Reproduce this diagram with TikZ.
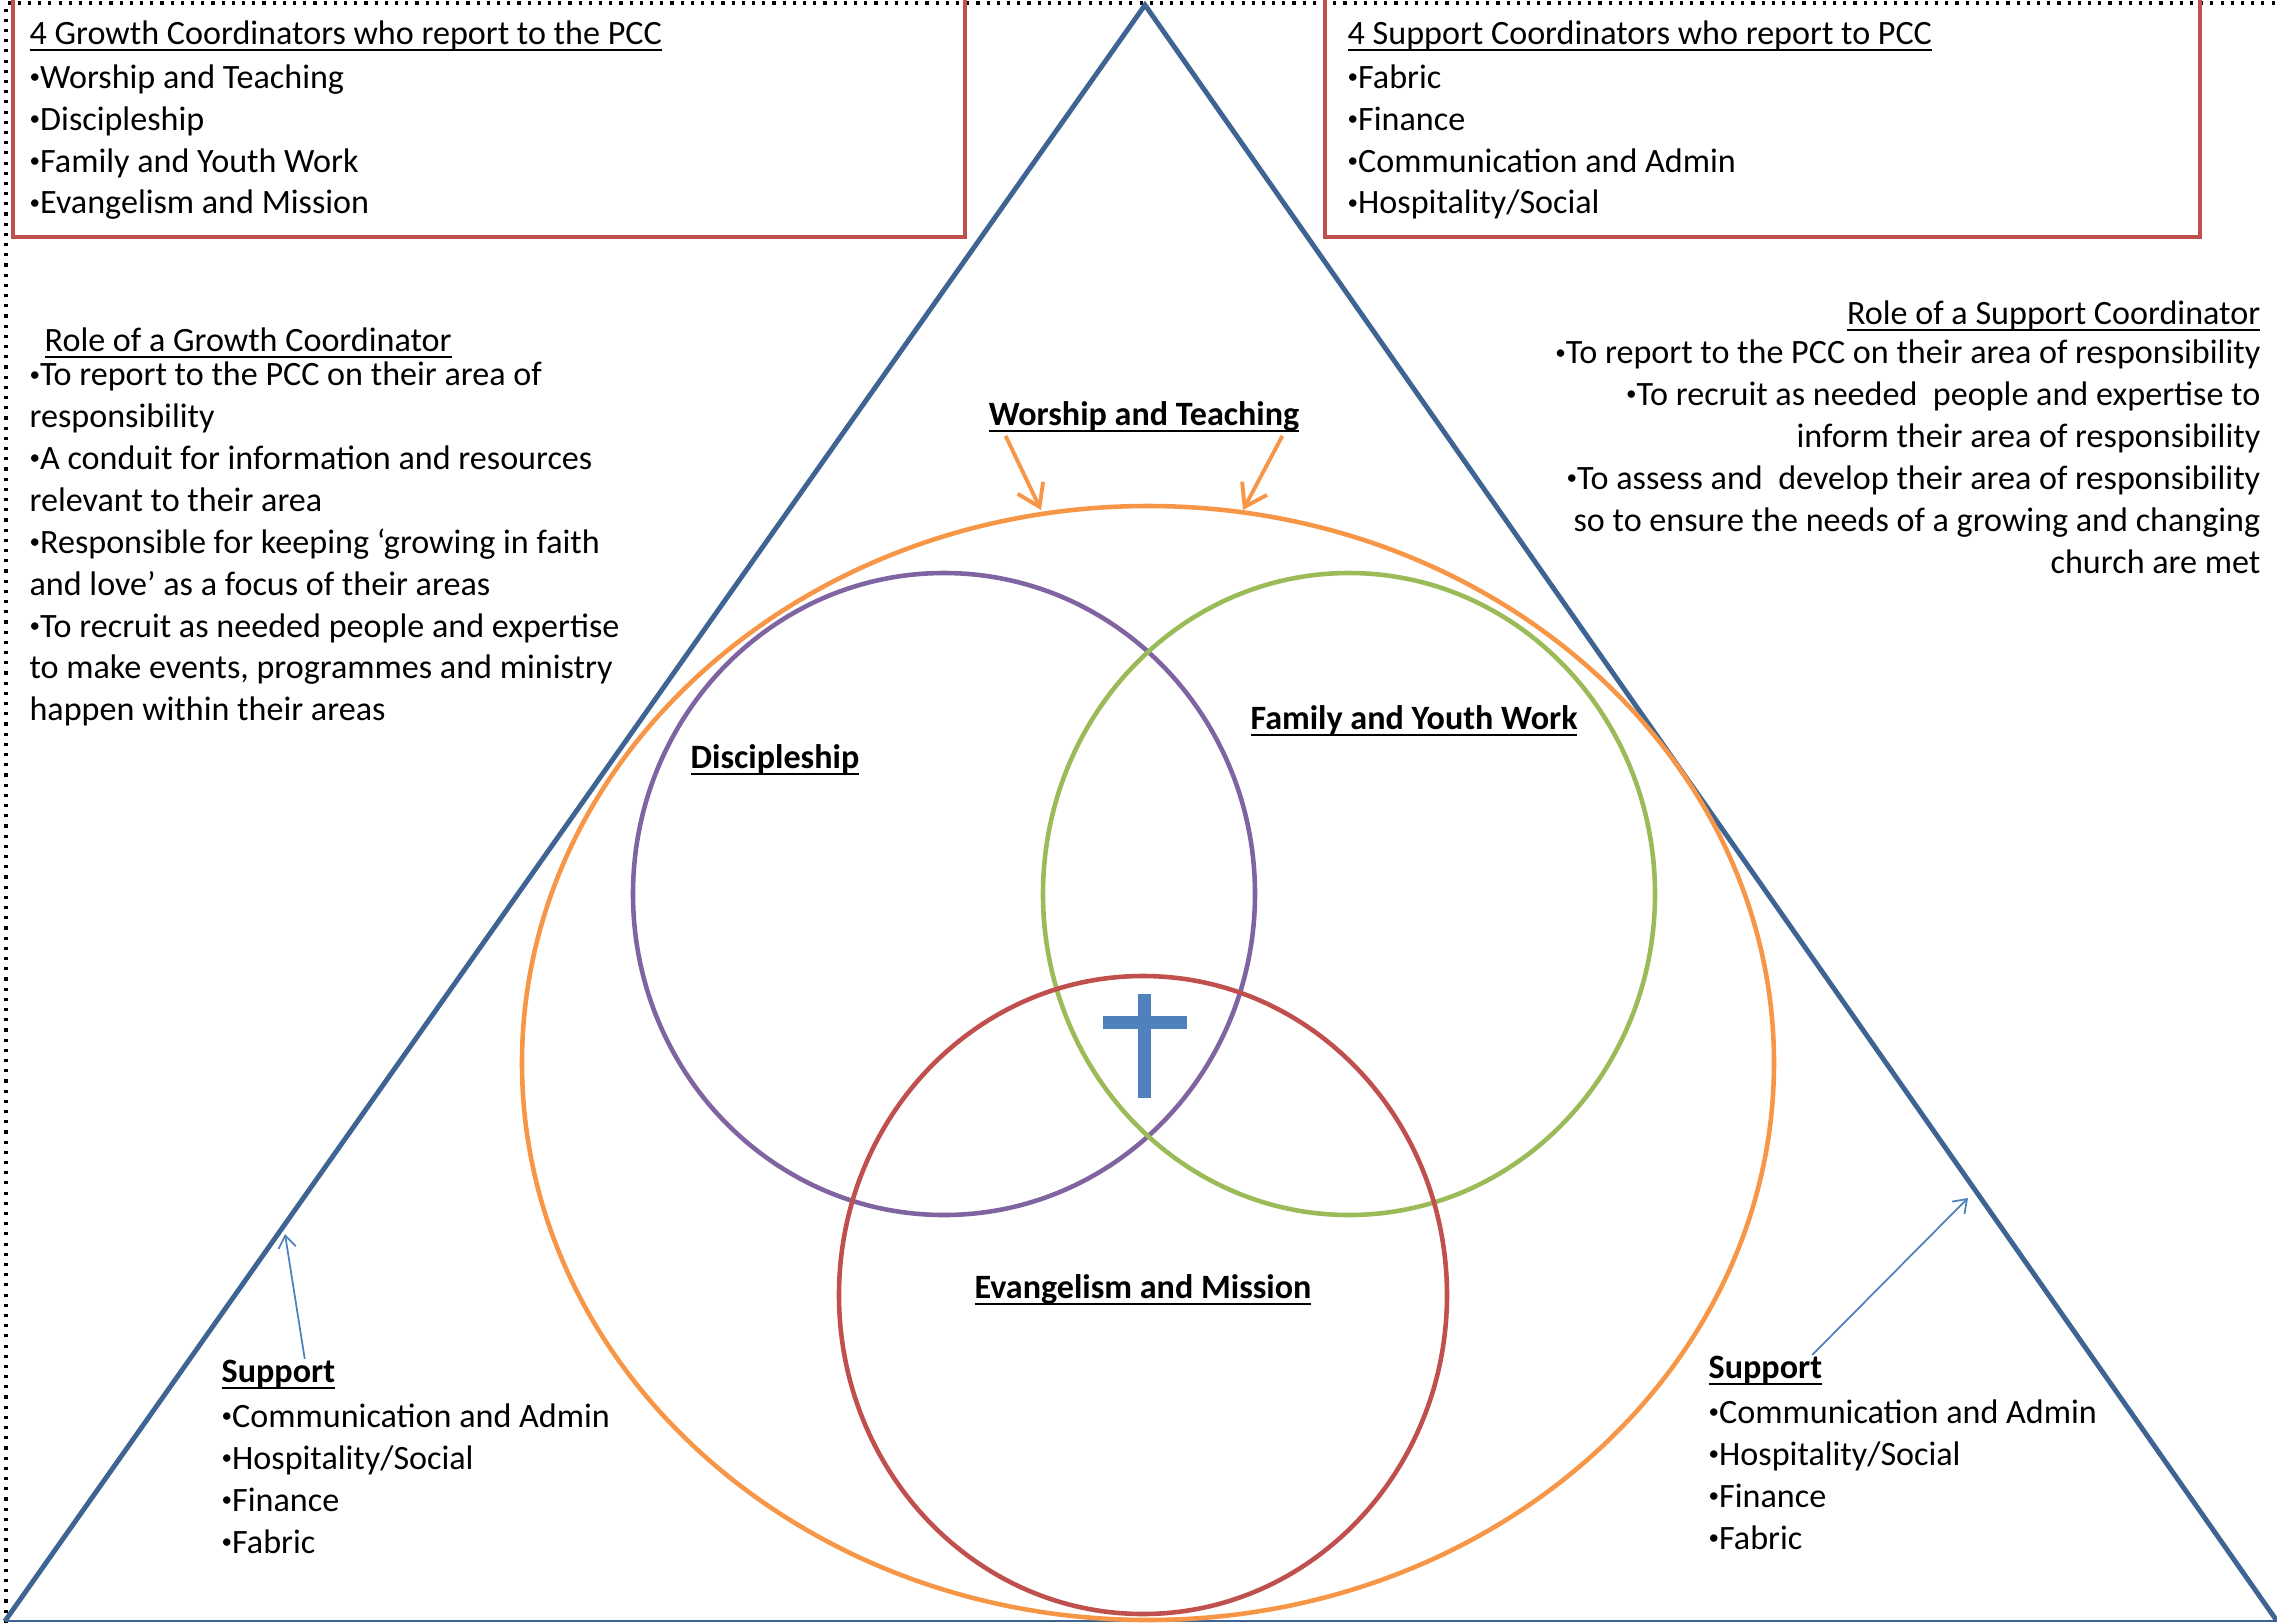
\documentclass[tikz,border=0pt]{standalone}
\usepackage{fontspec}
\setmainfont{Carlito}
\usetikzlibrary{arrows.meta,positioning}
\definecolor{triblue}{RGB}{62,100,148}
\definecolor{boxred}{RGB}{192,80,77}
\definecolor{wtorange}{RGB}{247,150,70}
\definecolor{dpurple}{RGB}{128,100,162}
\definecolor{fgreen}{RGB}{155,187,89}
\definecolor{crossblue}{RGB}{79,129,189}
\tikzset{>/.tip={Straight Barb[length=6pt,width=8pt]}}
\newcommand\uln[1]{\setbox0\hbox{#1}\rlap{\rule[-1.9pt]{\wd0}{0.55pt}}\box0}
\newcommand\blt{\raisebox{.14em}{\fontsize{6}{6}\selectfont•}}

\begin{document}
\begin{tikzpicture}[x=0.01cm,y=-0.01cm,
    txt/.style={inner sep=0pt,align=left,font=\fontsize{9.7}{11.9}\selectfont},
    lbl/.style={inner sep=0pt,font=\bfseries\fontsize{9.7}{11.9}\selectfont},
    box/.style={boxred,line width=1.3pt},
    ring/.style={line width=1.3pt}]
  \useasboundingbox (0,0) rectangle (2277,1623);
  \draw[dotted,line width=0.9pt] (6,1623) -- (6,3) -- (2277,3);
  \coordinate (top) at (1145,5);
  \coordinate (bl) at (5,1621);
  \coordinate (br) at (2277,1621);
  \draw[triblue,line width=1.4pt] (bl) -- (top) -- (br);
  \draw[triblue,line width=0.6pt] (bl) -- (br);
  \draw[box] (13,0) -- (13,237) -- (965,237) -- (965,0);
  \draw[box] (1325,0) -- (1325,237) -- (2200,237) -- (2200,0);

  \node (gtitle) [txt,anchor=base west] at (29,44) {\uln{4 Growth Coordinators who report to the PCC}};
  \node (glist) [txt,below=5.7pt of gtitle.base west,anchor=north west]
    {\blt Worship and Teaching\\\blt Discipleship\\\blt Family and Youth Work\\\blt Evangelism and Mission};
  \node (stitle) [txt,anchor=base west] at (1347,44) {\uln{4 Support Coordinators who report to PCC}};
  \node (slist) [txt,below=5.7pt of stitle.base west,anchor=north west]
    {\blt Fabric\\\blt Finance\\\blt Communication and Admin\\\blt Hospitality/Social};

  \node (grtitle) [txt,anchor=base west] at (44,351) {\uln{Role of a Growth Coordinator}};
  \node (grlist) [txt,below=3pt of grtitle.base west,anchor=north west,xshift=-4.3pt]
    {\blt To report to the PCC on their area of\\responsibility\\\blt A conduit for information and resources\\relevant to their area\\
     \blt Responsible for keeping ‘growing in faith\\and love’ as a focus of their areas\\
     \blt To recruit as needed people and expertise\\to make events, programmes and ministry\\happen within their areas};
  \node (srtitle) [txt,anchor=base east] at (2261,324) {\uln{Role of a Support Coordinator}};
  \node (srlist) [txt,align=right,below=4.4pt of srtitle.base east,anchor=north east]
    {\blt To report to the PCC on their area of responsibility\\\blt To recruit as needed\ \ people and expertise to\\
     inform their area of responsibility\\\blt To assess and\ \ develop their area of responsibility\\
     so to ensure the needs of a growing and changing\\church are met};

  \draw[wtorange,ring] (1148,1063) ellipse [x radius=626,y radius=557];
  \draw[dpurple,ring] (944,894) ellipse [x radius=311,y radius=321];
  \draw[fgreen,ring] (1349,894) ellipse [x radius=306,y radius=321];
  \draw[boxred,ring] (1143,1295) ellipse [x radius=304,y radius=319];
  \fill[crossblue] (1138,994) rectangle (1151,1098);
  \fill[crossblue] (1103,1016) rectangle (1187,1029);

  \node (wt) [lbl,anchor=base] at (1144,425) {\uln{Worship and Teaching}};
  \node (dis) [lbl,anchor=base] at (775,768) {\uln{Discipleship}};
  \node (fyw) [lbl,anchor=base] at (1414,729) {\uln{Family and Youth Work}};
  \node (em) [lbl,anchor=base] at (1143,1298) {\uln{Evangelism and Mission}};
  \coordinate (wtl) at (1041,510);
  \coordinate (wtr) at (1243,510);
  \draw[wtorange,line width=1.1pt,->] ([xshift=5pt,yshift=-1pt]wt.south west) -- (wtl);
  \draw[wtorange,line width=1.1pt,->] ([xshift=-5pt,yshift=-1pt]wt.south east) -- (wtr);

  \node (slh) [lbl,anchor=base west] at (221,1382) {\uln{Support}};
  \node (sll) [txt,below=6pt of slh.base west,anchor=north west]
    {\blt Communication and Admin\\\blt Hospitality/Social\\\blt Finance\\\blt Fabric};
  \node (srh) [lbl,anchor=base west] at (1708,1378) {\uln{Support}};
  \node (srl) [txt,below=6pt of srh.base west,anchor=north west]
    {\blt Communication and Admin\\\blt Hospitality/Social\\\blt Finance\\\blt Fabric};
  \coordinate (sltip) at (285,1234);
  \coordinate (srtip) at (1968,1198);
  \draw[crossblue,line width=0.5pt,->,>={Straight Barb[length=3.5pt,width=5pt]}] (slh.30) -- (sltip);
  \draw[crossblue,line width=0.5pt,->,>={Straight Barb[length=3.5pt,width=5pt]}] ([xshift=-3pt]srh.north east) -- (srtip);
\end{tikzpicture}
\end{document}
